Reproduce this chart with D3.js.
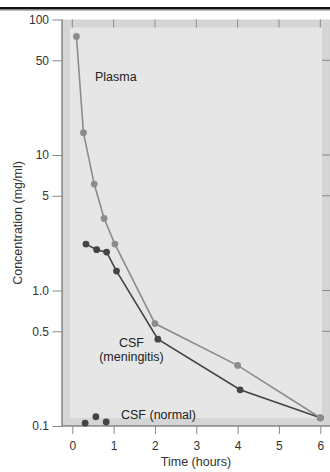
<!DOCTYPE html>
<html>
<head>
<meta charset="utf-8">
<script src="https://cdn.jsdelivr.net/npm/d3@7"></script>
<style>
body{margin:0;background:#fff;}
text{font-family:"Liberation Sans",Arial,sans-serif;}
</style>
</head>
<body>
<div id="chart"></div>
<script>
// data (time in hours, concentration in mg/ml)
var plasmaT=[0.1,0.27,0.53,0.77,1.03,2,4,6];
var plasmaC=[75,14.6,6.1,3.4,2.2,0.57,0.28,0.115];
var meningT=[0.33,0.59,0.83,1.07,2.07,4.06,6];
var meningC=[2.2,2.0,1.92,1.39,0.437,0.185,0.115];
var normalT=[0.31,0.57,0.82];
var normalC=[0.105,0.117,0.107];
var xTicks=[0,1,2,3,4,5,6];
var yTicks=[100,50,10,5,1,0.5,0.1];
var yLabels=["100","50","10","5","1.0","0.5","0.1"];

var width=330,height=472;
var L=62,R=330,T=19.5,B=426,band=8;

var svg=d3.select("#chart").append("svg")
    .attr("width",width)
    .attr("height",height);

// rule at the top
svg.append("rect").attr("x",0).attr("y",7).attr("width",width).attr("height",2.5).style("fill","#111");
svg.append("rect").attr("x",0).attr("y",10).attr("width",width).attr("height",1).style("fill","#bbb");

var x=d3.scaleLinear().domain([0,6]).range([72.3,320.3]);
var y=d3.scaleLog().domain([0.1,100]).range([B,T]);

// panel
svg.append("rect").attr("x",L).attr("y",T).attr("width",R-L).attr("height",B-T).style("fill","#d5d5d5");
svg.append("rect").attr("x",L+band).attr("y",T+band).attr("width",R-L-2*band).attr("height",B-T-2*band).style("fill","#e6e6e6");

// inner ticks on top and right
svg.selectAll()
    .data(xTicks)
    .enter()
    .append("line")
    .attr("x1",function(d){return x(d);}).attr("x2",function(d){return x(d);})
    .attr("y1",T).attr("y2",T+band)
    .style("stroke","#8a8a8a").style("stroke-width",1);
svg.selectAll()
    .data(yTicks.slice(1,6))
    .enter()
    .append("line")
    .attr("x1",R-band).attr("x2",R)
    .attr("y1",function(d){return y(d);}).attr("y2",function(d){return y(d);})
    .style("stroke","#8a8a8a").style("stroke-width",1);

// left axis
var yAxis=d3.axisLeft(y).tickValues(yTicks).tickSize(9.5).tickPadding(3.5)
    .tickFormat(function(d,i){return yLabels[i];});
var gy=svg.append("g").attr("transform","translate("+L+",0)").call(yAxis);
gy.select(".domain").attr("d","M0,"+T+"V"+B).style("stroke","#555");
gy.selectAll(".tick line").style("stroke","#8a8a8a");
gy.selectAll(".tick text").style("font-size","12px").style("fill","#333").style("font-family","Liberation Sans, Arial, sans-serif");

// bottom axis
var xAxis=d3.axisBottom(x).tickValues(xTicks).tickSize(8).tickPadding(7).tickFormat(d3.format("d"));
var gx=svg.append("g").attr("transform","translate(0,"+B+")").call(xAxis);
gx.select(".domain").attr("d","M"+L+",0H"+R).style("stroke","#555");
gx.selectAll(".tick line").style("stroke","#8a8a8a");
gx.selectAll(".tick text").style("font-size","12px").style("fill","#333").style("font-family","Liberation Sans, Arial, sans-serif");

// axis titles
svg.append("text")
    .attr("transform","translate(21.5,223) rotate(-90)")
    .attr("text-anchor","middle")
    .style("font-size","12.5px").style("fill","#333")
    .text("Concentration (mg/ml)");
svg.append("text")
    .attr("x",196).attr("y",466)
    .attr("text-anchor","middle")
    .style("font-size","12.5px").style("fill","#333")
    .text("Time (hours)");

var line=d3.line()
    .x(function(d){return x(d[0]);})
    .y(function(d){return y(d[1]);});

var mening=d3.zip(meningT,meningC);
var plasma=d3.zip(plasmaT,plasmaC);
var normal=d3.zip(normalT,normalC);

svg.append("path").datum(mening).attr("d",line)
    .style("fill","none").style("stroke","#444").style("stroke-width",1.6);
svg.selectAll()
    .data(mening)
    .enter()
    .append("circle")
    .attr("cx",function(d){return x(d[0]);})
    .attr("cy",function(d){return y(d[1]);})
    .attr("r",3.4)
    .style("fill","#444");

svg.append("path").datum(plasma).attr("d",line)
    .style("fill","none").style("stroke","#8c8c8c").style("stroke-width",1.6);
svg.selectAll()
    .data(plasma)
    .enter()
    .append("circle")
    .attr("cx",function(d){return x(d[0]);})
    .attr("cy",function(d){return y(d[1]);})
    .attr("r",3.4)
    .style("fill","#8c8c8c");

svg.selectAll()
    .data(normal)
    .enter()
    .append("circle")
    .attr("cx",function(d){return x(d[0]);})
    .attr("cy",function(d){return y(d[1]);})
    .attr("r",3.4)
    .style("fill","#444");

// series labels
svg.append("text").attr("x",95).attr("y",81).style("font-size","12.5px").style("fill","#222").text("Plasma");
svg.append("text").attr("x",131.5).attr("y",347).attr("text-anchor","middle").style("font-size","12.5px").style("fill","#222").text("CSF");
svg.append("text").attr("x",131.5).attr("y",361).attr("text-anchor","middle").style("font-size","12.5px").style("fill","#222").text("(meningitis)");
svg.append("text").attr("x",121).attr("y",419).style("font-size","12.5px").style("fill","#222").text("CSF (normal)");
</script>
</body>
</html>
